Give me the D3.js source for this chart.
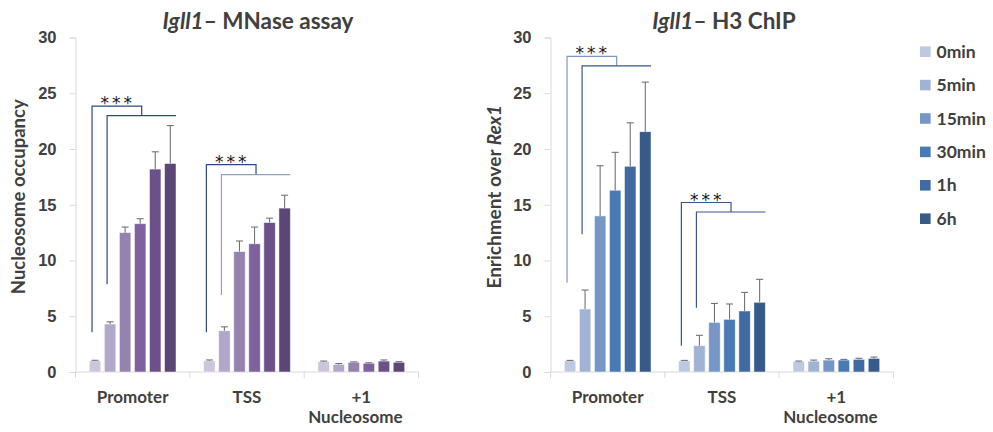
<!DOCTYPE html>
<html>
<head>
<meta charset="utf-8">
<script src="https://cdn.jsdelivr.net/npm/d3@7"></script>
<style>
  html, body { margin: 0; padding: 0; background: #fff; }
  svg { display: block; font-family: Lato, "Open Sans", sans-serif; }
</style>
</head>
<body>
<svg id="chart" width="993" height="432"></svg>
<script>
// Regions along the Igll1 locus and digestion time points
const categories = ["Promoter", "TSS", "+1 Nucleosome"];
const timepoints = ["0min", "5min", "15min", "30min", "1h", "6h"];
const yTicks = [0, 5, 10, 15, 20, 25, 30];

// MNase assay: nucleosome occupancy (rows = regions, columns = time points)
const mnaseValues = [
  [1.0, 4.3, 12.5, 13.3, 18.2, 18.7],
  [1.0, 3.7, 10.8, 11.5, 13.4, 14.7],
  [0.93, 0.68, 0.87, 0.78, 0.98, 0.87]
];
const mnaseErrors = [
  [0.05, 0.2, 0.5, 0.45, 1.55, 3.4],
  [0.08, 0.35, 0.95, 1.5, 0.4, 1.15],
  [0.05, 0.08, 0.04, 0.05, 0.1, 0.06]
];

// H3 ChIP: enrichment over Rex1
const chipValues = [
  [1.0, 5.65, 14.0, 16.3, 18.45, 21.55],
  [1.0, 2.36, 4.45, 4.72, 5.47, 6.25],
  [0.95, 0.97, 1.07, 1.07, 1.13, 1.22]
];
const chipErrors = [
  [0.04, 1.7, 4.5, 3.4, 3.9, 4.45],
  [0.04, 0.93, 1.7, 1.38, 1.67, 2.06],
  [0.03, 0.1, 0.12, 0.06, 0.1, 0.12]
];

// Significance brackets: region index, outer/inner top heights and lower ends
const mnaseBrackets = [
  { cat: 0, outerTop: 23.85, innerTop: 23.0, outerBottom: 3.56, innerBottom: 7.87, label: "***" },
  { cat: 1, outerTop: 18.6, innerTop: 17.7, outerBottom: 3.56, innerBottom: 6.9, label: "***" }
];
const chipBrackets = [
  { cat: 0, outerTop: 28.3, innerTop: 27.45, outerBottom: 8.0, innerBottom: 12.35, label: "***" },
  { cat: 1, outerTop: 15.2, innerTop: 14.35, outerBottom: 2.36, innerBottom: 5.77, label: "***" }
];

const purples = ["#cdc5dc", "#b1a7c9", "#9583af", "#7e619d", "#6c5189", "#5c4676"];
const blues   = ["#bdc9e0", "#a1b3d5", "#7696c8", "#4a7ab4", "#3f6ba2", "#365a89"];

const svg = d3.select("#chart");
const textColor = "#404040";
const axisColor = "#d9d9d9";

function drawPanel(opts) {
  const g = svg.append("g");
  const x = d3.scaleBand().domain(categories).range(opts.xRange).padding(0);
  const xs = d3.scaleBand().domain(timepoints).range([0, x.bandwidth()])
    .paddingInner(0.24).paddingOuter(0.918);
  const y = d3.scaleLinear().domain([0, 30]).range([372, 37.5]);

  // y axis
  const yAxis = d3.axisLeft(y).tickValues(yTicks).tickSize(6).tickPadding(13);
  const ya = g.append("g").attr("transform", `translate(${opts.xRange[0]},0)`).call(yAxis);
  ya.select(".domain").attr("stroke", axisColor);
  ya.selectAll(".tick line").attr("stroke", axisColor);
  ya.selectAll(".tick text").attr("fill", textColor)
    .style("font-size", "16.5px").style("font-weight", "700");

  // x axis baseline with category separators
  const xa = g.append("g").attr("transform", `translate(0,${y(0)})`);
  xa.append("line").attr("x1", opts.xRange[0]).attr("x2", opts.xRange[1])
    .attr("stroke", axisColor).attr("stroke-width", 1.2);
  const seps = categories.map(c => x(c)).concat([opts.xRange[1]]);
  xa.selectAll("line.sep").data(seps).join("line").attr("class", "sep")
    .attr("x1", d => d).attr("x2", d => d).attr("y1", 0).attr("y2", 6)
    .attr("stroke", axisColor);

  // category labels
  categories.forEach(c => {
    const cx = x(c) + x.bandwidth() / 2;
    const parts = c.split(" ");
    const t = g.append("text").attr("x", cx).attr("y", 403)
      .attr("text-anchor", "middle").attr("fill", textColor)
      .style("font-size", "17px").style("font-weight", "700");
    parts.forEach((p, i) => {
      t.append("tspan").attr("x", i === 0 ? cx : cx - 6).attr("dy", i === 0 ? 0 : 20).text(p);
    });
  });

  // bars
  categories.forEach((c, ci) => {
    const grp = g.append("g").attr("transform", `translate(${x(c)},0)`);
    timepoints.forEach((tp, si) => {
      const v = opts.values[ci][si];
      const e = opts.errors[ci][si];
      grp.append("rect")
        .attr("x", xs(tp)).attr("width", xs.bandwidth())
        .attr("y", y(v)).attr("height", y(0) - y(v))
        .attr("fill", opts.colors[si])
        .attr("stroke", "#ffffff").attr("stroke-opacity", 0.6).attr("stroke-width", 0.8);
      const cx = xs(tp) + xs.bandwidth() / 2;
      grp.append("line").attr("x1", cx).attr("x2", cx)
        .attr("y1", y(v)).attr("y2", y(v + e))
        .attr("stroke", "#737373").attr("stroke-width", 1.1);
      grp.append("line").attr("x1", cx - 3.5).attr("x2", cx + 3.5)
        .attr("y1", y(v + e)).attr("y2", y(v + e))
        .attr("stroke", "#737373").attr("stroke-width", 1.1);
    });
  });

  // significance brackets
  opts.brackets.forEach((b, bi) => {
    const c = categories[b.cat];
    const x0 = x(c);
    const cOf = i => x0 + xs(timepoints[i]) + xs.bandwidth() / 2;
    const ox = cOf(0) - 3;
    const oEnd = cOf(3) + 1.5;
    const ix = cOf(1) - 3;
    const iEnd = x0 + xs(timepoints[5]) + xs.bandwidth();
    const col = opts.bracketColors[bi];
    g.append("path")
      .attr("d", `M${ox},${y(b.outerBottom)}V${y(b.outerTop)}H${oEnd}V${y(b.innerTop)}`)
      .attr("fill", "none").attr("stroke", col[0]).attr("stroke-width", 1.2);
    g.append("path")
      .attr("d", `M${ix},${y(b.innerBottom)}V${y(b.innerTop)}H${iEnd}`)
      .attr("fill", "none").attr("stroke", col[1]).attr("stroke-width", 1.2);
    g.append("text").attr("x", (ox + oEnd) / 2 + 1).attr("y", y(b.outerTop) + 3)
      .attr("text-anchor", "middle").attr("fill", "#1a1a1a")
      .style("font-family", "'DejaVu Sans', sans-serif")
      .style("font-size", "17px").style("letter-spacing", "3px")
      .text(b.label);
  });

  // title
  const title = g.append("text").attr("x", opts.titleX).attr("y", 29)
    .attr("text-anchor", "middle").attr("fill", textColor)
    .style("font-size", "22.5px").style("font-weight", "700");
  title.append("tspan").style("font-style", "italic").text("Igll1");
  title.append("tspan").text(opts.title);

  // y-axis label
  const yl = g.append("text")
    .attr("transform", `translate(${opts.yLabelX},${(y(0) + y(30)) / 2 - 8}) rotate(-90)`)
    .attr("text-anchor", "middle").attr("fill", textColor)
    .style("font-size", opts.yLabelSize).style("font-weight", "700");
  opts.yLabel.forEach(p => {
    yl.append("tspan").style("font-style", p.italic ? "italic" : "normal").text(p.text);
  });

  return { x, xs, y };
}

drawPanel({
  xRange: [75.5, 418.5],
  values: mnaseValues, errors: mnaseErrors, colors: purples,
  brackets: mnaseBrackets,
  bracketColors: [["#2c4a82", "#2c4a82"], ["#2c4a82", "#8ea3bf"]],
  title: "\u2013 MNase assay", titleX: 258,
  yLabel: [{ text: "Nucleosome occupancy" }], yLabelX: 25, yLabelSize: "18.5px"
});

drawPanel({
  xRange: [550.5, 893.5],
  values: chipValues, errors: chipErrors, colors: blues,
  brackets: chipBrackets,
  bracketColors: [["#7d9ac6", "#37588c"], ["#37588c", "#37588c"]],
  title: "\u2013 H3 ChIP", titleX: 724,
  yLabel: [{ text: "Enrichment over " }, { text: "Rex1", italic: true }], yLabelX: 501, yLabelSize: "19px"
});

// legend
const legend = svg.append("g");
const ly = d3.scalePoint().domain(timepoints).range([51.7, 218.7]);
timepoints.forEach((tp, i) => {
  legend.append("rect").attr("x", 920).attr("y", ly(tp) - 5.3)
    .attr("width", 10.6).attr("height", 10.6).attr("fill", blues[i]);
  legend.append("text").attr("x", 936.5).attr("y", ly(tp) + 6)
    .attr("fill", textColor).style("font-size", "17.5px").style("font-weight", "700")
    .text(tp);
});
</script>
</body>
</html>
